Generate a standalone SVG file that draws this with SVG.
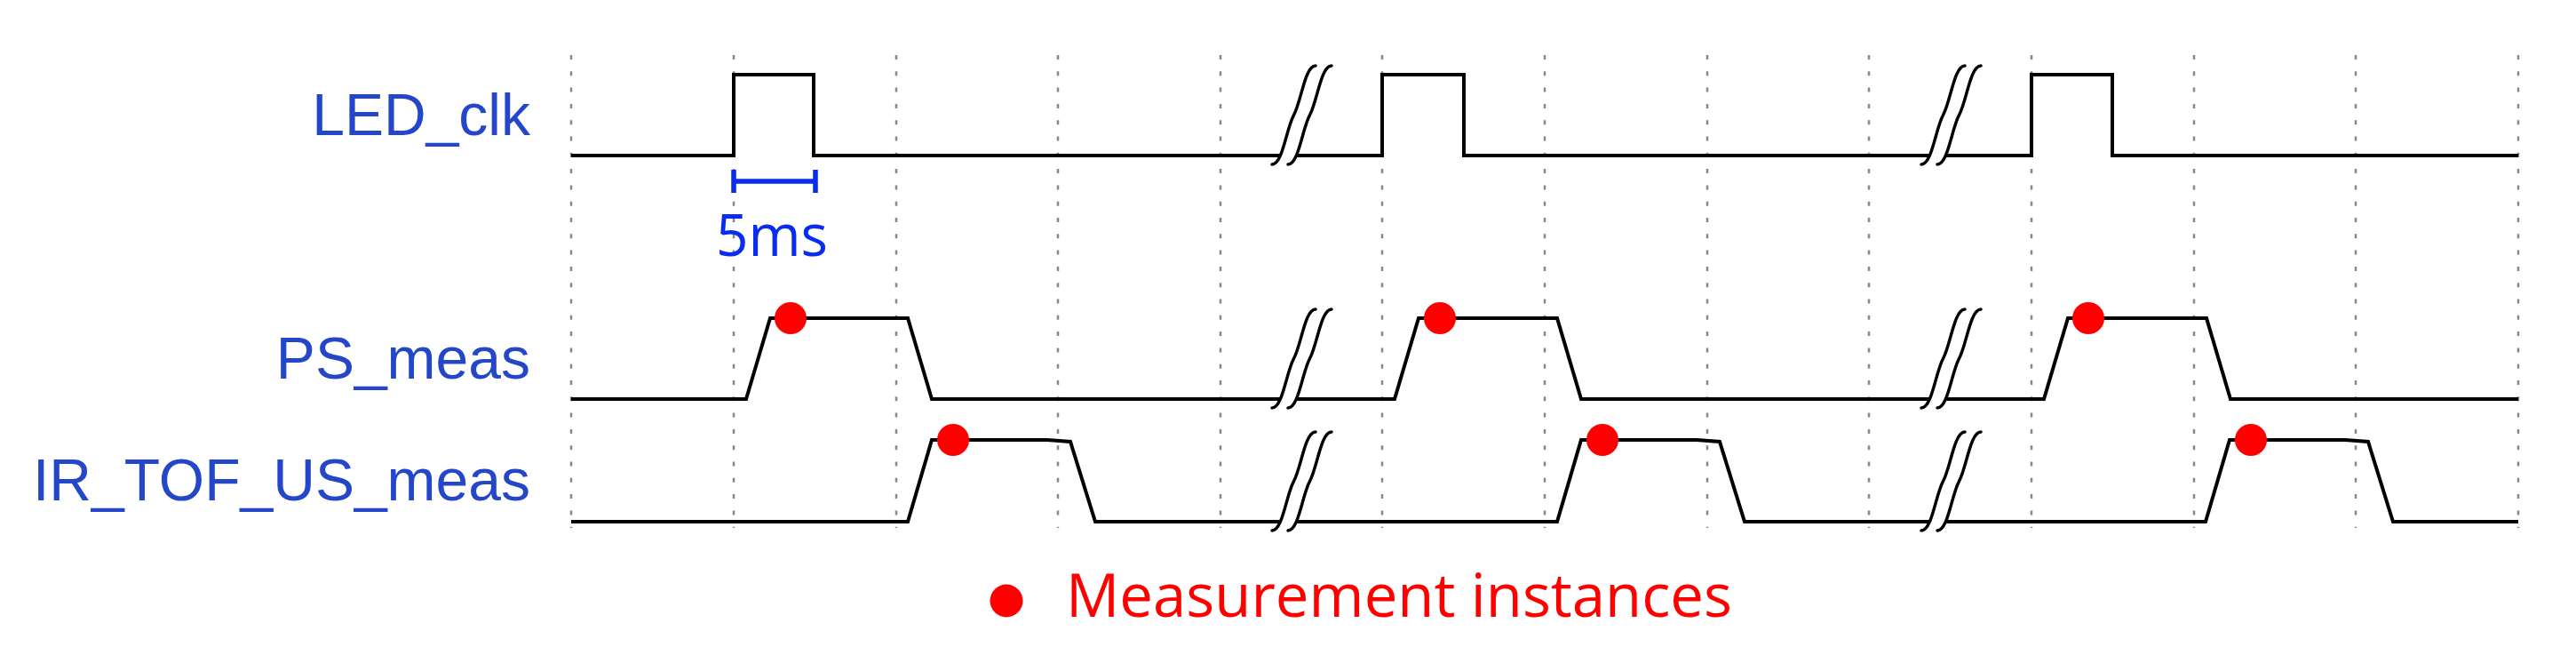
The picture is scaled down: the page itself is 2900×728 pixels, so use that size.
<svg xmlns="http://www.w3.org/2000/svg" width="2900" height="728" viewBox="0 0 2900 728">
<style>
.lbl{font-family:"Liberation Sans",Arial,sans-serif;font-size:66px;fill:#2347c8;text-anchor:end}
.grid{stroke:#888;stroke-width:2.5;stroke-dasharray:5 13.3;fill:none}
.sig{stroke:#000;stroke-width:4;fill:none;stroke-linejoin:miter}
.brk{stroke:#000;stroke-width:3.5;fill:none;stroke-linecap:round}
.msk{stroke:#fff;stroke-width:16;fill:none}
.dot{fill:#ff0000}
</style>
<defs>
<path id="bc" d="M0,0 C12,0 16,-40 24.5,-55.5 C33,-71 37,-111 49,-111"/>
<g id="brk">
<use href="#bc" x="9" class="msk"/>
<use href="#bc" class="brk"/>
<use href="#bc" x="18" class="brk"/>
</g>
</defs>
<g id="grid">
<path class="grid" d="M643,62V594M826,62V594M1009,62V594M1191,62V594M1374,62V594M1556,62V594M1739,62V594M1922,62V594M2104,62V594M2287,62V594M2470,62V594M2652,62V594M2835,62V594"/>
</g>
<g id="labels">
<text id="lbl-led" class="lbl" x="597" y="152">LED_clk</text>
<text id="lbl-ps" class="lbl" x="597" y="426">PS_meas</text>
<text id="lbl-ir" class="lbl" x="597" y="563">IR_TOF_US_meas</text>
</g>
<g id="signals">
<path id="led" class="sig" d="M643,175 H826 V84 H916 V175 H1556 V84 H1648 V175 H2287 V84 H2378 V175 H2835"/>
<path id="ps" class="sig" d="M643,449 H840 L867,358 H1022 L1049,449 H1570 L1597,358 H1753 L1780,449 H2301 L2328,358 H2484 L2511,449 H2835"/>
<path id="ir" class="sig" d="M643,587 H1022 L1049,495 H1179 L1205,497 L1233,587 H1753 L1780,495 H1910 L1936,497 L1964,587 H2483 L2510,495 H2640 L2666,497 L2694,587 H2835"/>
</g>
<g id="breaks">
<use href="#brk" x="1432" y="185"/>
<use href="#brk" x="1432" y="459"/>
<use href="#brk" x="1432" y="597"/>
<use href="#brk" x="2163" y="185"/>
<use href="#brk" x="2163" y="459"/>
<use href="#brk" x="2163" y="597"/>
</g>
<g id="scale">
<path d="M826,204H918M826,191V217M918,191V217" stroke="#0a2cf0" stroke-width="5.5" fill="none"/>
<text x="869" y="288" font-family="'Open Sans',sans-serif" font-size="66" fill="#0a2cf0" text-anchor="middle" textLength="126" lengthAdjust="spacingAndGlyphs">5ms</text>
</g>
<g id="dots">
<circle class="dot" cx="890" cy="358" r="18"/>
<circle class="dot" cx="1621" cy="358" r="18"/>
<circle class="dot" cx="2351" cy="358" r="18"/>
<circle class="dot" cx="1073" cy="495" r="18"/>
<circle class="dot" cx="1804" cy="495" r="18"/>
<circle class="dot" cx="2534" cy="495" r="18"/>
</g>
<g id="legend">
<circle class="dot" cx="1133" cy="676" r="18.5"/>
<text x="1200" y="694" font-family="'Open Sans',sans-serif" font-size="68" fill="#ff0000" textLength="750" lengthAdjust="spacingAndGlyphs">Measurement instances</text>
</g>
</svg>
